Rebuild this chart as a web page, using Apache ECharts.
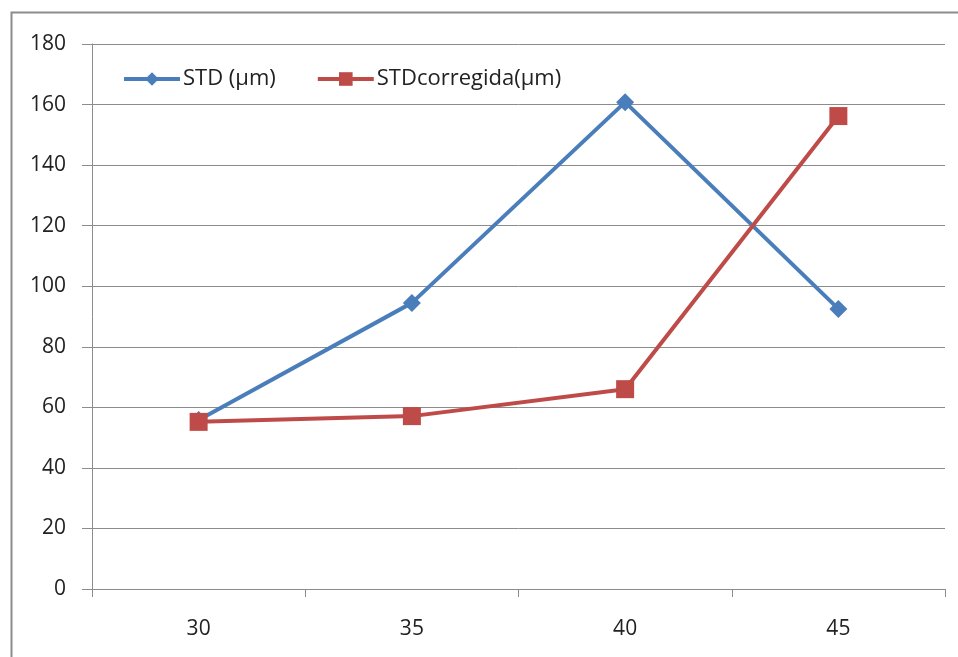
<!DOCTYPE html>
<html>
<head>
<meta charset="utf-8">
<script src="https://cdn.jsdelivr.net/npm/echarts@6/dist/echarts.min.js"></script>
<style>html,body{margin:0;padding:0;background:#fff}#c{width:958px;height:657px}</style>
</head>
<body>
<div id="c"></div>
<script>
const categories = ['30', '35', '40', '45'];
const stdValues = [55.8, 94.5, 160.8, 92.5];
const stdCorrValues = [55.2, 57.1, 66.0, 156.2];
const seriesNames = ['STD (\u00b5m)', 'STDcorregida(\u00b5m)'];

const chart = echarts.init(document.getElementById('c'));
const font = '"Open Sans", "Liberation Sans", sans-serif';
chart.setOption({
  animation: false,
  backgroundColor: '#fff',
  graphic: [{
    type: 'rect', left: 9, top: 10, silent: true,
    shape: { width: 1000, height: 700 },
    style: { fill: 'none', stroke: '#8c8c8c', lineWidth: 2 }
  }],
  grid: { left: 92, right: 13, top: 44, bottom: 68, containLabel: false },
  legend: {
    left: 117, top: 63, itemGap: 40, itemWidth: 56, itemHeight: 17,
    textStyle: { fontFamily: font, fontSize: 22, color: '#222', padding: [0, 0, 0, -2] },
    lineStyle: { width: 4 },
    data: [seriesNames[0], seriesNames[1]]
  },
  xAxis: {
    type: 'category', data: categories, boundaryGap: true,
    axisLine: { lineStyle: { color: '#8c8c8c', width: 1 } },
    axisTick: { show: true, length: 8, lineStyle: { color: '#8c8c8c' } },
    axisLabel: { fontFamily: font, fontSize: 21, color: '#222', margin: 30 }
  },
  yAxis: {
    type: 'value', min: 0, max: 180, interval: 20,
    axisLine: { show: true, lineStyle: { color: '#8c8c8c' } },
    axisTick: { show: true, inside: false, length: 10, lineStyle: { color: '#8c8c8c' } },
    splitLine: { lineStyle: { color: '#8c8c8c', width: 1 } },
    axisLabel: { fontFamily: font, fontSize: 21, color: '#222', margin: 26 }
  },
  series: [
    {
      name: seriesNames[0], type: 'line', data: stdValues,
      symbol: 'diamond', symbolSize: 18,
      lineStyle: { color: '#4A7EBB', width: 4 },
      itemStyle: { color: '#4A7EBB' }
    },
    {
      name: seriesNames[1], type: 'line', data: stdCorrValues,
      symbol: 'rect', symbolSize: 18,
      lineStyle: { color: '#BE4B48', width: 4 },
      itemStyle: { color: '#BE4B48' }
    }
  ]
});
</script>
</body>
</html>
